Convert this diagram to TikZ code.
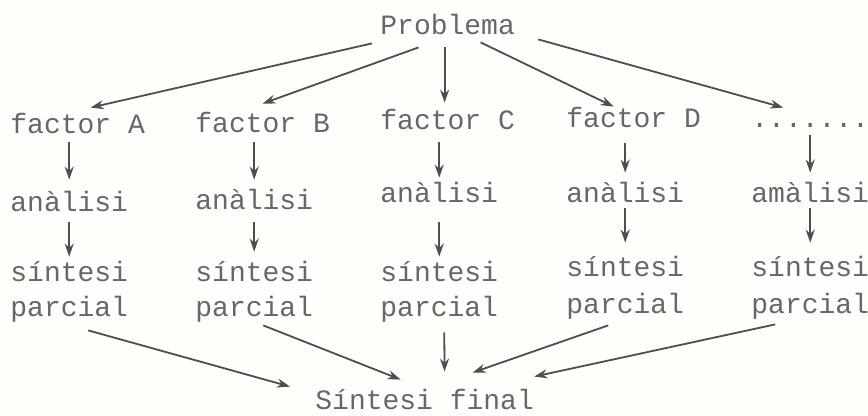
\documentclass[tikz,border=0pt]{standalone}
\usepackage{fontspec}
\setmonofont{Liberation Mono}
\usetikzlibrary{arrows.meta,positioning,calc}
\definecolor{ink}{HTML}{66666F}
\definecolor{pen}{HTML}{4E4E4E}
\definecolor{paper}{HTML}{FEFEFB}

\begin{document}
\begin{tikzpicture}[x=0.5pt,y=-0.5pt,
    lbl/.style={font=\ttfamily\fontsize{14}{16}\selectfont,text=ink,inner sep=0pt,
        text height=8.5pt,text depth=2.5pt,anchor=base west},
    arr/.style={draw=pen,line width=0.9pt,-{Stealth[length=6.5pt,width=4.5pt]}}]
    \fill[paper] (0,0) rectangle (868,416);
    \useasboundingbox (0,0) rectangle (868,416);

    % Problem
    \node[lbl] (prob) at (380,35) {Problema};

    % Factors
    \node[lbl] (fA) at (10,134) {factor A};
    \node[lbl] (fB) at (195,133) {factor B};
    \node[lbl] (fC) at (380,130) {factor C};
    \node[lbl] (fD) at (566,128) {factor D};
    \node[lbl] (fE) at (751,128) {.......};

    \draw[arr] ([shift={(-8,3)}]prob.south west) -- ([shift={(13,-9)}]fA.north);
    \draw[arr] ([shift={(-29,7)}]prob.south) -- ([shift={(0,-12)}]fB.north);
    \draw[arr] ([shift={(-3,7)}]prob.south) -- ([shift={(-3,-10)}]fC.north);
    \draw[arr] ([shift={(33,2)}]prob.south) -- ([shift={(-20,-4)}]fD.north);
    \draw[arr] ([shift={(23,-1)}]prob.south east) -- ([shift={(-27,-3)}]fE.north);

    % Analysis
    \node[lbl] (aA) at (10,212) {anàlisi};
    \node[lbl] (aB) at (195,210) {anàlisi};
    \node[lbl] (aC) at (380,203) {anàlisi};
    \node[lbl] (aD) at (566,203) {anàlisi};
    \node[lbl] (aE) at (751,203) {amàlisi};

    \draw[arr,shorten <=1.5pt,shorten >=7.5pt] (aA.north |- fA.south) -- (aA.north);
    \draw[arr,shorten <=2pt,shorten >=6.5pt] (aB.north |- fB.south) -- (aB.north);
    \draw[arr,shorten <=3.5pt,shorten >=4pt] (aC.north |- fC.south) -- (aC.north);
    \draw[arr,shorten <=5pt,shorten >=6.5pt] (aD.north |- fD.south) -- (aD.north);
    \draw[arr,shorten <=1pt,shorten >=6.5pt] (aE.north |- fE.south) -- (aE.north);

    % Partial synthesis
    \node[lbl] (sA) at (10,282) {síntesi};
    \node[lbl] (sB) at (195,282) {síntesi};
    \node[lbl] (sC) at (380,282) {síntesi};
    \node[lbl] (sD) at (566,277) {síntesi};
    \node[lbl] (sE) at (751,277) {síntesi};
    \node[lbl] (pA) at (10,317) {parcial};
    \node[lbl] (pB) at (195,317) {parcial};
    \node[lbl] (pC) at (380,317) {parcial};
    \node[lbl] (pD) at (566,314) {parcial};
    \node[lbl] (pE) at (751,314) {parcial};

    \draw[arr,shorten <=2.5pt,shorten >=4pt] (sA.north |- aA.south) -- (sA.north);
    \draw[arr,shorten <=3.5pt,shorten >=6.5pt] (sB.north |- aB.south) -- (sB.north);
    \draw[arr,shorten <=7pt,shorten >=4pt] (sC.north |- aC.south) -- (sC.north);
    \draw[arr,shorten >=8.5pt] (sD.north |- aD.south) -- (sD.north);
    \draw[arr,shorten >=8.5pt] (sE.north |- aE.south) -- (sE.north);

    % Final synthesis
    \node[lbl] (fin) at (315,410) {Síntesi final};

    \draw[arr] ([shift={(19,8)}]pA.south) -- ([shift={(-25,-6)}]fin.north west);
    \draw[arr] ([shift={(9,3)}]pB.south) -- ([shift={(-24,-13)}]fin.north);
    \draw[arr] ([shift={(5,10)}]pC.south) -- ([shift={(20,-21)}]fin.north);
    \draw[arr] ([shift={(-17,6)}]pD.south) -- ([shift={(48,-20)}]fin.north);
    \draw[arr] ([shift={(-35,5)}]pE.south) -- ([shift={(0,-16)}]fin.north east);
\end{tikzpicture}
\end{document}
